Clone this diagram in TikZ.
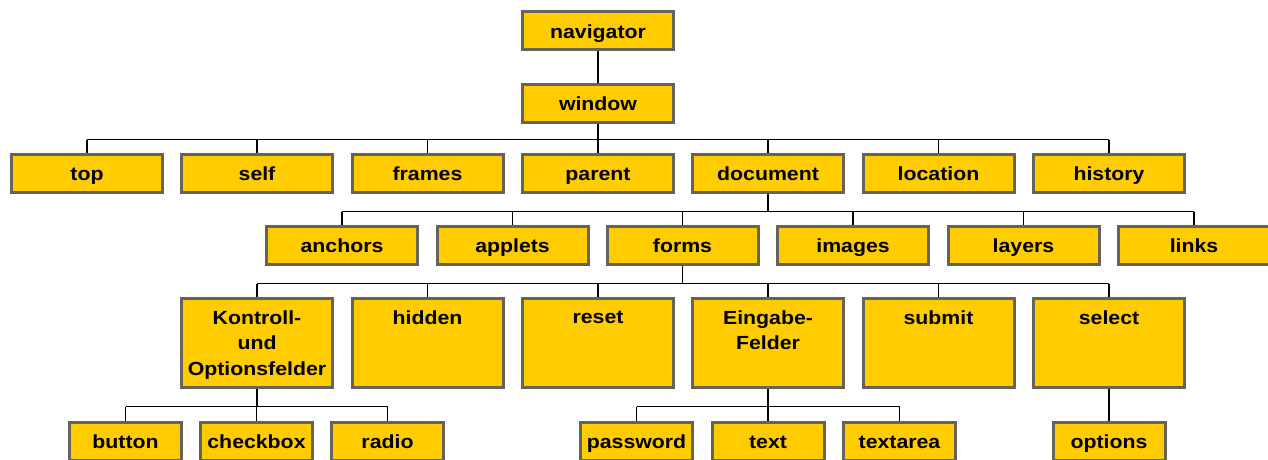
\documentclass[tikz,border=0pt]{standalone}
\usepackage{fontspec}
\setmainfont{Liberation Sans}[FakeStretch=1.12]
\definecolor{boxfill}{HTML}{FFCC00}
\definecolor{boxline}{HTML}{67625A}
\tikzset{
  lblfont/.style={font=\bfseries\fontsize{19}{25.5}\selectfont, text=black},
  box/.style={draw=boxline, line width=3pt, fill=boxfill, minimum width=151pt,
    minimum height=38pt, inner sep=0pt, lblfont, text height=14pt, text depth=0pt},
  smallbox/.style={box, minimum width=112pt},
  tallbox/.style={box, minimum height=89pt},
  lbl/.style={lblfont, align=center, anchor=north, inner sep=0pt},
  link/.style={draw=black, line width=1.3pt},
}
\begin{document}
\begin{tikzpicture}[x=1pt, y=-1pt]
\useasboundingbox (0,0) rectangle (1268,460);
\clip (0,0) rectangle (1268,460);

% root and window
\node[box] (nav) at (598,31) {navigator};
\node[box] (win) at (598,103) {window};

% window children
\node[box] (top)    at (87,173.5)   {top};
\node[box] (self)   at (257,173.5)  {self};
\node[box] (frames) at (427.5,173.5){frames};
\node[box] (parent) at (598,173.5)  {parent};
\node[box] (doc)    at (768,173.5)  {document};
\node[box] (loc)    at (938.5,173.5){location};
\node[box] (hist)   at (1109,173.5) {history};

% document children
\node[box] (anchors) at (342,245.5)   {anchors};
\node[box] (applets) at (512.5,245.5) {applets};
\node[box] (forms)   at (682.5,245.5) {forms};
\node[box] (images)  at (853,245.5)   {images};
\node[box] (layers)  at (1023.5,245.5){layers};
\node[box] (links)   at (1194,245.5)  {links};

% form children: tall boxes with their captions at the top
\node[tallbox] (kof)    at (257,343)   {};
\node[tallbox] (hidden) at (427.5,343) {};
\node[tallbox] (reset)  at (598,343)   {};
\node[tallbox] (eing)   at (768,343)   {};
\node[tallbox] (submit) at (938.5,343) {};
\node[tallbox] (select) at (1109,343)  {};
\node[lbl] (tkof)    at ([yshift=-13.5pt]kof.north)    {Kontroll-\\und\\Optionsfelder};
\node[lbl] (thidden) at ([yshift=-13.5pt]hidden.north) {hidden};
\node[lbl] (treset)  at ([yshift=-14pt]reset.north)    {reset};
\node[lbl] (teing)   at ([yshift=-13.5pt]eing.north)   {Eingabe-\\Felder};
\node[lbl] (tsubmit) at ([yshift=-13.5pt]submit.north) {submit};
\node[lbl] (tselect) at ([yshift=-13.5pt]select.north) {select};

% leaves
\node[smallbox] (button)   at (125.5,441.5) {button};
\node[smallbox] (checkbox) at (256.5,441.5) {checkbox};
\node[smallbox] (radio)    at (387.5,441.5) {radio};
\node[smallbox] (password) at (636.5,441.5) {password};
\node[smallbox] (textf)    at (768,441.5)   {text};
\node[smallbox] (textarea) at (899.5,441.5) {textarea};
\node[smallbox] (options)  at (1109,441.5)  {options};

% connectors: one stem per parent, one bus, one drop per child
\draw[link] (nav.south) -- (win.north);

\draw[link] (win.south) -- ++(0,16) coordinate (busW);
\draw[link] (busW -| top.north) -- (busW -| hist.north);
\foreach \c in {top,self,frames,parent,doc,loc,hist}
  \draw[link] (busW -| \c.north) -- (\c.north);

\draw[link] (doc.south) -- ++(0,17.5) coordinate (busD);
\draw[link] (busD -| anchors.north) -- (busD -| links.north);
\foreach \c in {anchors,applets,forms,images,layers,links}
  \draw[link] (busD -| \c.north) -- (\c.north);

\draw[link] (forms.south) -- ++(0,17.5) coordinate (busF);
\draw[link] (busF -| kof.north) -- (busF -| select.north);
\foreach \c in {kof,hidden,reset,eing,submit,select}
  \draw[link] (busF -| \c.north) -- (\c.north);

\draw[link] (kof.south) -- ++(0,17.5) coordinate (busK);
\draw[link] (busK -| button.north) -- (busK -| radio.north);
\foreach \c in {button,checkbox,radio}
  \draw[link] (busK -| \c.north) -- (\c.north);

\draw[link] (eing.south) -- ++(0,17.5) coordinate (busE);
\draw[link] (busE -| password.north) -- (busE -| textarea.north);
\foreach \c in {password,textf,textarea}
  \draw[link] (busE -| \c.north) -- (\c.north);

\draw[link] (select.south) -- (options.north);
\end{tikzpicture}
\end{document}
